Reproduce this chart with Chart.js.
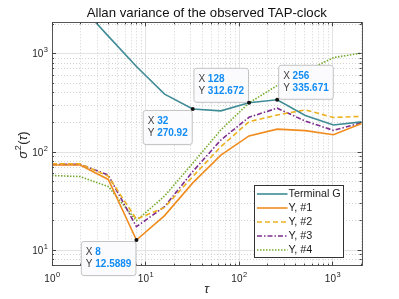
<!DOCTYPE html>
<html><head><meta charset="utf-8">
<script src="https://cdn.jsdelivr.net/npm/chart.js@4/dist/chart.umd.min.js"></script>
<style>html,body{margin:0;padding:0;background:#fff}#c{display:block}</style>
</head><body>
<canvas id="c" width="399" height="299" style="width:399px;height:299px"></canvas>
<script>
// ---- data ----
const tau = [1, 2, 4, 8, 16, 32, 64, 128, 256, 512, 1024, 2048];
const terminalG = [5200, 3060, 1490, 731, 383, 270.92, 259, 312.672, 335.671, 232, 186, 200];
const y1 = [73, 73, 52, 12.5889, 22.3, 48, 92, 144, 169, 163, 148, 193];
const y2 = [75, 75, 56, 20.5, 27, 55.6, 112, 201, 235, 265, 222, 228];
const y3 = [74, 74, 57.5, 17.2, 27.5, 62.5, 131, 223, 276, 204, 164, 196];
const y4 = [57, 55.6, 44, 19.8, 35.3, 76, 166, 312, 468, 656, 900, 1005];
const seriesNames = ['Terminal G', 'Y, #1', 'Y, #2', 'Y, #3', 'Y, #4'];
const xTickValues = [1, 10, 100, 1000];
const xTickExps = ['0', '1', '2', '3'];
const yTickValues = [10, 100, 1000];
const yTickExps = ['1', '2', '3'];
const titleText = 'Allan variance of the observed TAP-clock';
const xTitle = 'τ';
// datatips: series index, point index
const tipSeries = [1, 0, 0, 0];
const tipIndex = [3, 5, 7, 8];

const X_MIN = 1, X_MAX = 2048, Y_MIN = 6.9, Y_MAX = 2060;
const FONT = '"Liberation Sans", Arial, Helvetica, sans-serif';
const colors = ['#3f8c96', '#f08c1e', '#edb120', '#7e2f8e', '#77ac30'];
const dashes = [[], [], [5, 3], [5, 2, 1.5, 2], [1.5, 1.5]];
const allSeries = [terminalG, y1, y2, y3, y4];
const tipDir = ['dl', 'dl', 'ul', 'ur'];

function fmt(v){ return String(parseFloat(Number(v).toPrecision(6))); }

const deco = {
  id: 'deco',
  beforeDatasetsDraw(chart){
    const {ctx, chartArea:a, scales:{x, y}} = chart;
    ctx.save();
    ctx.lineWidth = 1;
    for (let d = 1; d <= 1000; d *= 10){
      for (let m = 1; m <= 9; m++){
        const v = m*d;
        if (v < X_MIN || v > X_MAX) continue;
        const px = Math.round(x.getPixelForValue(v)) + 0.5;
        ctx.beginPath();
        if (m === 1){ ctx.strokeStyle = '#e3e3e3'; ctx.setLineDash([]); }
        else { ctx.strokeStyle = '#d2d2d2'; ctx.setLineDash([1, 2]); }
        ctx.moveTo(px, a.top); ctx.lineTo(px, a.bottom); ctx.stroke();
      }
    }
    for (let d = 1; d <= 1000; d *= 10){
      for (let m = 1; m <= 9; m++){
        const v = m*d;
        if (v < Y_MIN || v > Y_MAX) continue;
        const py = Math.round(y.getPixelForValue(v)) + 0.5;
        ctx.beginPath();
        if (m === 1){ ctx.strokeStyle = '#e3e3e3'; ctx.setLineDash([]); }
        else { ctx.strokeStyle = '#d2d2d2'; ctx.setLineDash([1, 2]); }
        ctx.moveTo(a.left, py); ctx.lineTo(a.right, py); ctx.stroke();
      }
    }
    ctx.restore();
  },
  afterDatasetsDraw(chart){
    const {ctx, chartArea:a, scales:{x, y}} = chart;
    ctx.save();
    ctx.setLineDash([]);
    ctx.strokeStyle = '#555';
    ctx.lineWidth = 1;
    ctx.strokeRect(Math.round(a.left)+0.5, Math.round(a.top)+0.5, Math.round(a.right-a.left), Math.round(a.bottom-a.top));
    ctx.strokeStyle = '#444';
    ctx.beginPath();
    for (let d = 1; d <= 1000; d *= 10){
      for (let m = 1; m <= 9; m++){
        const v = m*d; if (v < X_MIN || v > X_MAX) continue;
        const px = Math.round(x.getPixelForValue(v)) + 0.5;
        const L = m === 1 ? 4 : 2;
        ctx.moveTo(px, a.bottom); ctx.lineTo(px, a.bottom - L);
        ctx.moveTo(px, a.top); ctx.lineTo(px, a.top + L);
      }
      for (let m = 1; m <= 9; m++){
        const v = m*d; if (v < Y_MIN || v > Y_MAX) continue;
        const py = Math.round(y.getPixelForValue(v)) + 0.5;
        const L = m === 1 ? 4 : 2;
        ctx.moveTo(a.left, py); ctx.lineTo(a.left + L, py);
        ctx.moveTo(a.right, py); ctx.lineTo(a.right - L, py);
      }
    }
    ctx.stroke();
    // tick labels
    ctx.fillStyle = '#262626';
    xTickValues.forEach((v, i) => {
      const px = x.getPixelForValue(v);
      ctx.font = '10px ' + FONT;
      const w1 = ctx.measureText('10').width;
      ctx.font = '7.5px ' + FONT;
      const w2 = ctx.measureText(xTickExps[i]).width;
      const sx = px - (w1 + w2)/2;
      ctx.textBaseline = 'alphabetic'; ctx.textAlign = 'left';
      ctx.font = '10px ' + FONT; ctx.fillText('10', sx, a.bottom + 16.5);
      ctx.font = '7.5px ' + FONT; ctx.fillText(xTickExps[i], sx + w1 + 0.5, a.bottom + 11.5);
    });
    yTickValues.forEach((v, i) => {
      const py = y.getPixelForValue(v);
      ctx.font = '7.5px ' + FONT;
      const w2 = ctx.measureText(yTickExps[i]).width;
      ctx.font = '10px ' + FONT;
      const w1 = ctx.measureText('10').width;
      const ex = a.left - 4;
      ctx.textAlign = 'left'; ctx.textBaseline = 'alphabetic';
      ctx.fillText('10', ex - w2 - w1 - 0.5, py + 4);
      ctx.font = '7.5px ' + FONT; ctx.fillText(yTickExps[i], ex - w2, py - 1);
    });
    // title
    ctx.fillStyle = '#111';
    ctx.font = '13.2px ' + FONT;
    ctx.textAlign = 'center'; ctx.textBaseline = 'middle';
    ctx.fillText(titleText, (a.left + a.right)/2, 13);
    // x title
    ctx.font = 'italic 13px ' + FONT;
    ctx.fillStyle = '#262626';
    ctx.fillText(xTitle, (a.left + a.right)/2, 289);
    // y title sigma^2(tau)
    ctx.save();
    ctx.translate(27, 145);
    ctx.rotate(-Math.PI/2);
    ctx.textBaseline = 'alphabetic'; ctx.textAlign = 'left';
    ctx.font = 'italic 13px ' + FONT;
    const wS = ctx.measureText('σ').width;
    ctx.font = '9px ' + FONT;
    const w2 = ctx.measureText('2').width;
    ctx.font = '13px ' + FONT;
    const wP1 = ctx.measureText('(').width;
    ctx.font = 'italic 13px ' + FONT;
    const wT = ctx.measureText('τ').width;
    ctx.font = '13px ' + FONT;
    const wP2 = ctx.measureText(')').width;
    const tot = wS + w2 + wP1 + wT + wP2 + 1;
    let cx = -tot/2;
    ctx.font = 'italic 13px ' + FONT; ctx.fillText('σ', cx, 0); cx += wS + 0.5;
    ctx.font = '9px ' + FONT; ctx.fillText('2', cx, -6); cx += w2 + 0.5;
    ctx.font = '13px ' + FONT; ctx.fillText('(', cx, 0); cx += wP1;
    ctx.font = 'italic 13px ' + FONT; ctx.fillText('τ', cx, 0); cx += wT;
    ctx.font = '13px ' + FONT; ctx.fillText(')', cx, 0);
    ctx.restore();
    // legend
    const lx = 254.5, ly = 185.5, lw = 89, lh = 72;
    ctx.fillStyle = '#fff';
    ctx.fillRect(lx, ly, lw, lh);
    ctx.strokeStyle = '#333'; ctx.lineWidth = 1;
    ctx.strokeRect(lx, ly, lw, lh);
    seriesNames.forEach((n, i) => {
      const ry = 194 + i*14;
      ctx.beginPath();
      ctx.strokeStyle = colors[i];
      ctx.lineWidth = 1.6;
      ctx.setLineDash(dashes[i]);
      ctx.moveTo(257, ry); ctx.lineTo(287.5, ry); ctx.stroke();
      ctx.setLineDash([]);
      ctx.fillStyle = '#1a1a1a';
      ctx.font = '10.8px ' + FONT;
      ctx.textAlign = 'left'; ctx.textBaseline = 'middle';
      ctx.fillText(n, 288.5, ry + 0.5);
    });
    // datatips
    tipSeries.forEach((s, k) => {
      const idx = tipIndex[k];
      const xv = tau[idx], yv = allSeries[s][idx];
      const px = x.getPixelForValue(xv), py = y.getPixelForValue(yv);
      const lx1 = 'X ', lx2 = fmt(xv), ly1 = 'Y ', ly2 = fmt(yv);
      ctx.font = '10px ' + FONT;
      const wa = ctx.measureText(lx1).width, wb = ctx.measureText(ly1).width;
      ctx.font = 'bold 10px ' + FONT;
      const wc = ctx.measureText(lx2).width, wd = ctx.measureText(ly2).width;
      const bw = Math.max(wa + wc, wb + wd) + 9;
      const bh = 34;
      const d = tipDir[k];
      const bx = d[1] === 'l' ? px - bw - 1 : px + 1;
      const by = d[0] === 'd' ? py + 1 : py - bh - 1;
      ctx.fillStyle = 'rgba(0,0,0,0.06)';
      roundRect(ctx, bx + 1, by + 1.5, bw, bh, 2.5); ctx.fill();
      ctx.fillStyle = '#fbfbfe';
      roundRect(ctx, bx + 0.5, by + 0.5, bw, bh, 2.5); ctx.fill();
      ctx.strokeStyle = '#c4c4c4'; ctx.lineWidth = 1;
      ctx.stroke();
      ctx.textAlign = 'left'; ctx.textBaseline = 'middle';
      ctx.fillStyle = '#404040'; ctx.font = '10px ' + FONT;
      ctx.fillText(lx1, bx + 5, by + 11.5);
      ctx.fillText(ly1, bx + 5, by + 23.5);
      ctx.fillStyle = '#118cf5'; ctx.font = 'bold 10px ' + FONT;
      ctx.fillText(lx2, bx + 5 + wa, by + 11.5);
      ctx.fillText(ly2, bx + 5 + wb, by + 23.5);
      ctx.fillStyle = '#111';
      ctx.beginPath(); ctx.arc(px, py, 2, 0, Math.PI*2); ctx.fill();
    });
    ctx.restore();
  }
};
function roundRect(ctx, x, y, w, h, r){
  ctx.beginPath();
  ctx.moveTo(x + r, y); ctx.lineTo(x + w - r, y); ctx.quadraticCurveTo(x + w, y, x + w, y + r);
  ctx.lineTo(x + w, y + h - r); ctx.quadraticCurveTo(x + w, y + h, x + w - r, y + h);
  ctx.lineTo(x + r, y + h); ctx.quadraticCurveTo(x, y + h, x, y + h - r);
  ctx.lineTo(x, y + r); ctx.quadraticCurveTo(x, y, x + r, y); ctx.closePath();
}

const datasets = allSeries.map((vals, i) => ({
  label: seriesNames[i],
  data: tau.map((t, j) => ({x: t, y: vals[j]})),
  borderColor: colors[i],
  backgroundColor: colors[i],
  borderWidth: 1.6,
  borderDash: dashes[i],
  pointRadius: 0,
  tension: 0,
  fill: false
}));
new Chart(document.getElementById('c'), {
  type: 'line',
  data: { datasets },
  options: {
    responsive: false,
    animation: false,
    devicePixelRatio: 1,
    layout: { padding: { left: 52, right: 37.4, top: 22.3, bottom: 33.3 } },
    plugins: { legend: { display: false }, tooltip: { enabled: false }, title: { display: false } },
    scales: {
      x: { type: 'logarithmic', min: X_MIN, max: X_MAX, display: false },
      y: { type: 'logarithmic', min: Y_MIN, max: Y_MAX, display: false }
    }
  },
  plugins: [deco]
});
</script>
</body></html>
